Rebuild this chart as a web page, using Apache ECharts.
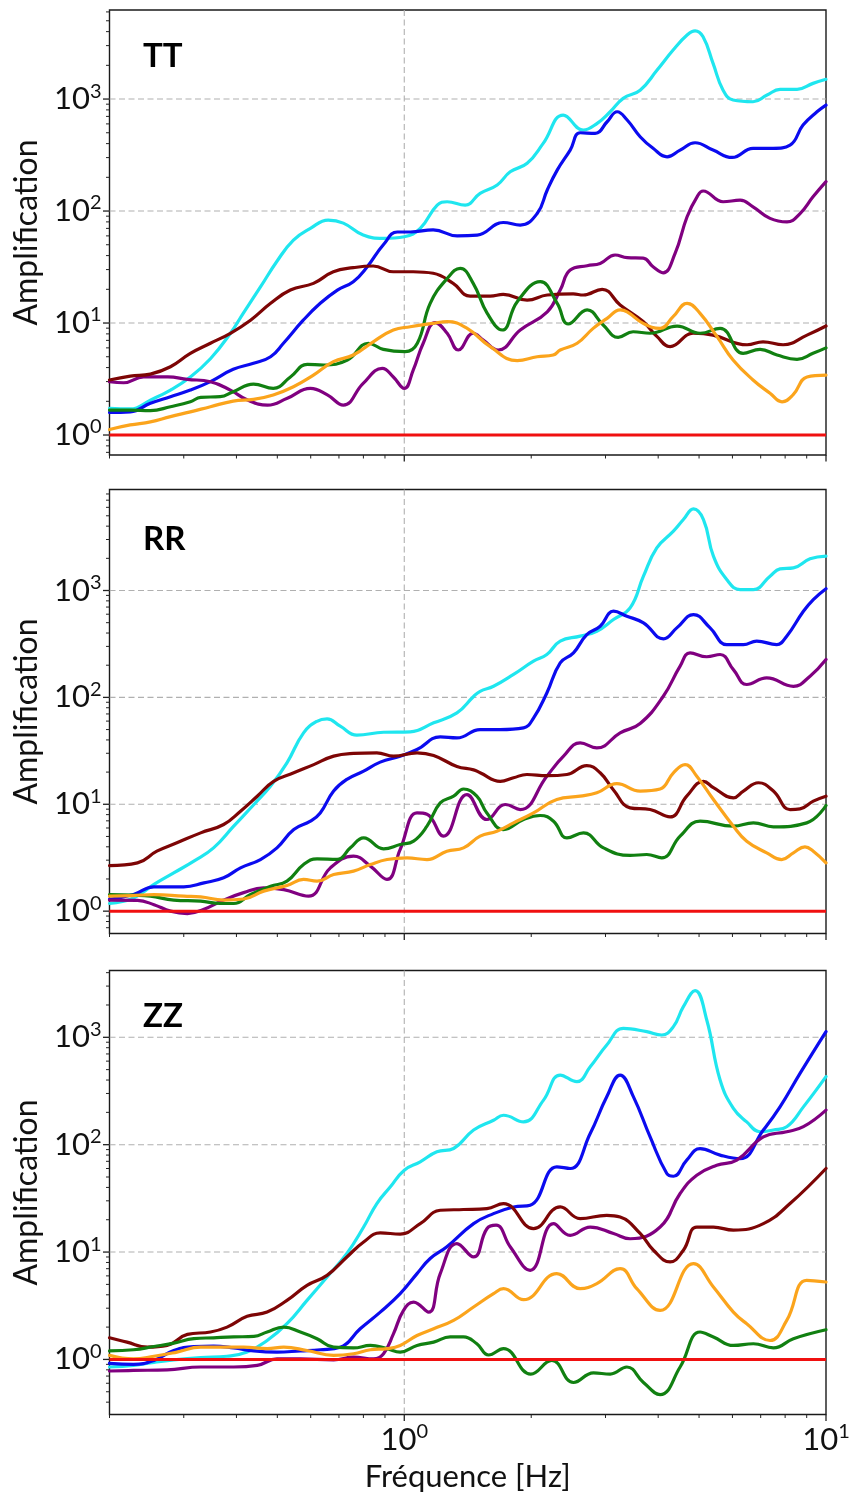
<!DOCTYPE html>
<html><head><meta charset="utf-8">
<script src="https://cdn.jsdelivr.net/npm/echarts@6/dist/echarts.min.js"></script>
<style>html,body{margin:0;padding:0;background:#fff}#c{width:851px;height:1496px}</style>
</head><body><div id="c"></div>
<script>
// ---------- data ----------
const PANEL_NAMES = ['TT', 'RR', 'ZZ'];
const X_LABEL = 'Fréquence [Hz]';
const Y_LABEL = 'Amplification';
const X_RANGE = [0.2, 10];
const Y_RANGES = [[0.663, 6240], [0.618, 8810], [0.307, 4190]];
const X_MAJOR = [1, 10];
const Y_MAJOR = [1, 10, 100, 1000];
const X_GRIDLINES = [1];
const Y_GRIDLINES = [1, 10, 100, 1000];
const SERIES_NAMES = ['cyan', 'blue', 'purple', 'maroon', 'green', 'orange'];
const COLORS = ['#1fe6ef', '#0b0bef', '#800080', '#7d0505', '#118011', '#fba41c'];
const REF_LINE = [[0.2, 1], [10, 1]];

const TT_cyan = [[0.2,1.73],[0.224,1.71],[0.25,2.05],[0.279,2.52],[0.311,3.3],[0.347,4.8],[0.387,8.1],[0.415,12.2],[0.456,21],[0.5,36],[0.546,55],[0.599,70],[0.66,83],[0.717,78],[0.799,61],[0.892,57],[1.0,59],[1.091,70],[1.197,113],[1.264,121],[1.394,113],[1.513,144],[1.661,171],[1.783,224],[1.956,267],[2.135,402],[2.382,720],[2.657,529],[2.867,607],[3.078,770],[3.304,1014],[3.625,1200],[3.977,1815],[4.34,2740],[4.684,3730],[4.893,4070],[5.111,3600],[5.398,2080],[5.701,1200],[6.021,980],[6.714,946],[7.248,1086],[7.78,1220],[8.537,1220],[9.316,1380],[10,1500]];
const TT_blue = [[0.2,1.59],[0.224,1.61],[0.25,1.92],[0.279,2.2],[0.311,2.52],[0.347,3.0],[0.393,3.86],[0.439,4.37],[0.482,5.0],[0.517,6.6],[0.576,10.6],[0.632,15],[0.694,19.7],[0.757,23.4],[0.817,31.8],[0.892,50],[0.963,65],[1.033,65],[1.171,68],[1.335,60],[1.489,61],[1.717,79],[1.884,75],[2.066,95],[2.183,154],[2.305,232],[2.474,350],[2.613,500],[2.835,494],[3.027,627],[3.197,770],[3.377,650],[3.625,461],[3.89,363],[4.2,305],[4.509,350],[4.893,407],[5.398,350],[5.989,301],[6.714,363],[7.488,363],[8.217,388],[8.821,586],[9.52,770],[10,884]];
const TT_purple = [[0.2,2.99],[0.216,2.93],[0.241,3.3],[0.275,3.3],[0.306,3.14],[0.347,2.99],[0.387,2.52],[0.425,2.05],[0.474,1.85],[0.528,2.13],[0.599,2.61],[0.657,2.28],[0.717,1.85],[0.799,2.89],[0.887,3.94],[0.942,3.3],[1.0,2.61],[1.05,3.8],[1.109,6.6],[1.184,10.1],[1.264,8.1],[1.343,5.74],[1.457,8.1],[1.539,7.05],[1.67,5.74],[1.884,8.66],[2.183,12.6],[2.343,19.7],[2.474,29.7],[2.714,32.5],[2.914,34],[3.162,40.5],[3.377,38.3],[3.685,38],[3.89,31.8],[4.109,28.1],[4.387,41.9],[4.684,89],[4.946,134],[5.111,151],[5.701,121],[6.256,125],[6.714,109],[7.367,86],[8.082,80],[8.678,95],[9.316,134],[10,183]];
const TT_maroon = [[0.2,3.1],[0.224,3.36],[0.25,3.5],[0.279,4.07],[0.311,5.36],[0.347,6.6],[0.387,8.1],[0.432,10.6],[0.482,15],[0.537,19.7],[0.609,22.6],[0.679,28.7],[0.757,31.2],[0.844,32.3],[0.942,28.7],[1.05,28.7],[1.171,27.8],[1.306,22.6],[1.433,17.4],[1.599,17.4],[1.717,18],[1.956,16],[2.183,17.8],[2.515,18.2],[2.657,17.8],[2.946,20],[3.25,14.5],[3.685,10.3],[3.977,7.55],[4.269,6.15],[4.839,8.1],[5.398,7.8],[6.5,6.4],[7.09,6.8],[7.91,6.4],[9.016,7.8],[10,9.4]];
const TT_green = [[0.2,1.67],[0.224,1.67],[0.25,1.65],[0.279,1.79],[0.311,1.98],[0.329,2.17],[0.366,2.2],[0.393,2.44],[0.439,2.85],[0.489,2.61],[0.537,3.3],[0.589,4.28],[0.643,4.22],[0.733,4.68],[0.822,6.6],[0.892,5.82],[1.005,5.55],[1.074,6.6],[1.152,15],[1.264,25],[1.357,30.8],[1.457,22.6],[1.573,12.2],[1.707,8.66],[1.853,15.5],[2.101,23.4],[2.305,15],[2.447,9.8],[2.714,13.1],[2.962,9.6],[3.215,7.45],[3.489,8.36],[3.828,8.1],[4.436,9.4],[5.028,8.1],[5.609,8.96],[6.36,5.36],[6.977,5.82],[7.654,5.18],[8.537,4.74],[9.316,5.36],[10,6.0]];
const TT_orange = [[0.2,1.12],[0.224,1.23],[0.25,1.31],[0.279,1.46],[0.311,1.61],[0.347,1.79],[0.393,2.01],[0.439,2.08],[0.489,2.28],[0.546,2.7],[0.609,3.43],[0.679,4.52],[0.757,5.18],[0.844,6.8],[0.942,8.66],[1.033,9.27],[1.171,9.94],[1.264,10.3],[1.41,8.96],[1.599,6.15],[1.853,4.61],[2.066,5.0],[2.255,5.18],[2.343,5.74],[2.57,6.6],[2.805,8.96],[3.027,11],[3.25,13.1],[3.377,12.6],[3.685,9.94],[4.043,8.96],[4.34,11.4],[4.684,15],[5.028,12.2],[5.517,7.55],[6.021,4.68],[6.714,3.1],[7.367,2.36],[7.866,1.98],[8.351,2.28],[9.016,3.3],[10,3.43]];

const RR_cyan = [[0.2,1.18],[0.228,1.33],[0.255,1.78],[0.284,2.28],[0.317,2.94],[0.353,3.91],[0.394,6.24],[0.44,9.95],[0.482,14.8],[0.527,24.4],[0.577,46.6],[0.621,59.8],[0.656,63],[0.705,53.8],[0.772,44.3],[0.893,47.2],[1.033,47.6],[1.174,57.8],[1.333,71.6],[1.46,102],[1.513,114],[1.628,127],[1.816,164],[2.025,218],[2.178,252],[2.343,336],[2.613,374],[2.861,416],[3.134,535],[3.432,688],[3.691,1361],[3.97,2506],[4.347,3589],[4.59,4613],[4.85,5800],[5.122,4613],[5.408,2094],[5.815,1267],[6.256,1021],[6.727,1021],[7.367,1361],[7.78,1593],[8.37,1629],[9.165,1977],[10,2100]];
const RR_blue = [[0.2,1.29],[0.228,1.43],[0.255,1.69],[0.3,1.69],[0.335,1.84],[0.373,2.05],[0.409,2.54],[0.456,3.04],[0.499,3.91],[0.547,5.8],[0.599,6.95],[0.632,8.3],[0.68,13.3],[0.731,17.1],[0.801,20.4],[0.877,24.8],[0.978,28.2],[1.072,32.5],[1.217,42.7],[1.333,41.8],[1.513,50],[1.689,50],[1.918,51.9],[2.025,64],[2.178,110],[2.343,210],[2.519,261],[2.709,387],[2.914,463],[3.134,640],[3.371,575],[3.691,498],[4.117,353],[4.428,447],[4.85,596],[5.311,447],[5.815,312],[6.37,312],[6.85,336],[7.64,312],[8.07,374],[8.84,640],[9.33,823],[10,1040]];
const RR_purple = [[0.2,1.27],[0.233,1.26],[0.255,1.15],[0.279,1.0],[0.306,0.95],[0.335,1.04],[0.373,1.27],[0.416,1.49],[0.464,1.65],[0.518,1.59],[0.593,1.38],[0.668,2.54],[0.758,3.27],[0.831,2.64],[0.91,1.98],[0.978,3.78],[1.072,8.3],[1.132,8.07],[1.239,5.03],[1.408,12.3],[1.57,7.2],[1.735,9.95],[1.884,8.93],[2.178,18.3],[2.386,28.2],[2.613,37.6],[2.861,33.7],[3.25,46.6],[3.625,57],[4.117,103],[4.509,196],[4.761,261],[5.215,240],[5.609,252],[6.031,182],[6.486,132],[7.234,152],[8.37,127],[9.165,158],[10,226]];
const RR_maroon = [[0.2,2.67],[0.233,2.83],[0.259,3.64],[0.289,4.36],[0.329,5.4],[0.373,6.47],[0.409,8.62],[0.448,11.9],[0.49,16.4],[0.547,19.7],[0.61,23.5],[0.68,28.2],[0.758,29.9],[0.861,30.3],[0.943,28.2],[1.072,30.3],[1.174,28.6],[1.333,22.6],[1.46,21],[1.513,19.7],[1.689,16.4],[1.816,17.7],[1.953,19],[2.178,18.5],[2.43,19],[2.709,23],[2.914,19.7],[3.134,13.6],[3.432,9.26],[3.828,8.93],[4.269,7.62],[4.675,11.9],[5.122,16.4],[5.408,14.3],[6.031,11.5],[6.37,13.3],[6.915,15.9],[7.503,13.3],[8.217,8.93],[8.678,9.06],[9.33,10.7],[10,11.9]];
const RR_green = [[0.2,1.43],[0.228,1.41],[0.25,1.38],[0.284,1.27],[0.329,1.24],[0.366,1.18],[0.394,1.18],[0.432,1.43],[0.482,1.71],[0.527,1.91],[0.577,2.73],[0.621,3.09],[0.693,3.05],[0.745,3.91],[0.801,4.85],[0.893,3.83],[0.978,4.2],[1.052,4.52],[1.132,6.24],[1.217,10.3],[1.309,11.9],[1.382,13.9],[1.486,11.9],[1.57,8.3],[1.719,5.8],[1.918,7.2],[2.101,7.85],[2.259,6.95],[2.43,4.85],[2.661,5.4],[2.968,3.91],[3.432,3.32],[3.758,3.39],[4.079,3.15],[4.509,5.03],[5.028,6.95],[6.031,6.24],[6.727,6.7],[7.503,6.15],[9.0,6.7],[10,9.74]];
const RR_orange = [[0.2,1.38],[0.228,1.4],[0.255,1.43],[0.3,1.38],[0.329,1.36],[0.373,1.27],[0.416,1.3],[0.464,1.54],[0.527,1.74],[0.577,1.98],[0.621,1.91],[0.68,2.2],[0.758,2.37],[0.831,2.73],[0.91,3.04],[1.015,3.15],[1.132,3.04],[1.262,3.64],[1.382,3.91],[1.513,5.03],[1.658,5.6],[1.816,6.7],[2.025,8.3],[2.3,11.1],[2.613,11.9],[2.861,12.8],[3.192,15.6],[3.625,13.3],[4.043,13.9],[4.347,19.7],[4.633,23.5],[4.938,18.3],[5.408,11.1],[6.031,6.24],[6.486,4.52],[7.234,3.51],[7.85,3.04],[8.37,3.51],[8.916,4.0],[9.33,3.64],[10,2.83]];

const ZZ_cyan = [[0.2,0.85],[0.228,0.88],[0.255,0.94],[0.284,0.99],[0.329,1.04],[0.38,1.07],[0.424,1.17],[0.473,1.5],[0.527,2.15],[0.588,3.55],[0.656,5.86],[0.731,9.7],[0.801,17.1],[0.861,28.3],[0.927,40.5],[1.0,57.9],[1.091,69.2],[1.195,85.8],[1.309,92.2],[1.46,137],[1.628,169],[1.719,188],[1.918,163],[2.139,260],[2.343,445],[2.566,386],[2.76,532],[3.021,848],[3.309,1212],[3.758,1129],[4.079,1051],[4.347,1257],[4.59,1930],[4.893,2722],[5.215,1450],[5.609,400],[6.031,218],[6.486,163],[6.977,132],[7.503,137],[8.07,147],[8.84,225],[10,430]];
const ZZ_blue = [[0.2,0.92],[0.228,0.9],[0.255,0.98],[0.284,1.21],[0.317,1.32],[0.353,1.33],[0.394,1.28],[0.44,1.2],[0.499,1.17],[0.567,1.2],[0.632,1.23],[0.705,1.3],[0.786,1.93],[0.877,2.76],[0.978,4.1],[1.072,6.3],[1.152,8.7],[1.262,11.2],[1.46,18.4],[1.628,22.8],[1.816,26.3],[1.989,27.3],[2.3,62.2],[2.474,60],[2.76,127],[3.021,279],[3.25,445],[3.495,279],[3.828,118],[4.193,53.9],[4.347,50.8],[4.675,71.8],[5.028,92],[5.609,80],[6.256,74],[7.103,137],[7.78,225],[8.678,461],[10,1129]];
const ZZ_purple = [[0.2,0.78],[0.228,0.79],[0.274,0.8],[0.329,0.85],[0.394,0.85],[0.448,0.88],[0.499,1.01],[0.567,1.01],[0.68,0.99],[0.758,1.05],[0.846,1.01],[0.893,1.13],[0.943,1.74],[0.996,2.86],[1.052,3.42],[1.142,2.76],[1.217,6.3],[1.333,12],[1.46,9.0],[1.57,16.5],[1.651,17.8],[1.783,11.2],[1.989,6.76],[2.259,18.4],[2.474,14.3],[2.76,17.1],[3.134,14.9],[3.432,13.3],[4.043,17.1],[4.509,35.1],[4.938,52],[5.507,64.4],[6.143,71.8],[7.103,118],[8.07,132],[8.84,147],[10,210]];
const ZZ_maroon = [[0.2,1.59],[0.22,1.45],[0.246,1.3],[0.274,1.35],[0.306,1.71],[0.347,1.8],[0.38,2.0],[0.424,2.52],[0.473,2.76],[0.527,3.55],[0.588,4.9],[0.656,6.07],[0.731,9.0],[0.801,12.4],[0.877,15.1],[0.978,14.7],[1.091,18.4],[1.217,24.5],[1.382,24.9],[1.57,25.4],[1.719,28.3],[2.025,16.5],[2.343,26.3],[2.613,20.5],[3.021,22],[3.25,21.2],[3.625,14.9],[3.898,10.4],[4.269,8.09],[4.59,10.4],[4.938,17.1],[5.408,17.1],[6.031,16],[7.103,18.4],[8.217,28.3],[10,60]];
const ZZ_green = [[0.2,1.2],[0.228,1.23],[0.255,1.32],[0.284,1.42],[0.317,1.56],[0.353,1.59],[0.394,1.62],[0.44,1.64],[0.473,1.8],[0.518,2.0],[0.567,1.8],[0.621,1.56],[0.68,1.3],[0.758,1.28],[0.831,1.35],[0.91,1.26],[0.978,1.17],[1.072,1.35],[1.174,1.45],[1.285,1.62],[1.382,1.62],[1.486,1.4],[1.585,1.1],[1.719,1.26],[1.995,0.73],[2.238,0.98],[2.519,0.61],[2.81,0.75],[3.078,0.73],[3.371,0.85],[3.691,0.61],[4.043,0.47],[4.509,0.85],[5.028,1.8],[5.408,1.62],[6.031,1.35],[6.727,1.4],[7.503,1.28],[8.37,1.56],[10,1.89]];
const ZZ_orange = [[0.2,1.09],[0.228,1.01],[0.255,1.07],[0.289,1.17],[0.329,1.3],[0.373,1.3],[0.416,1.3],[0.473,1.26],[0.518,1.3],[0.588,1.21],[0.68,1.09],[0.758,1.13],[0.831,1.23],[0.91,1.26],[0.978,1.35],[1.072,1.67],[1.174,1.93],[1.309,2.31],[1.46,3.08],[1.628,4.1],[1.719,4.56],[1.918,3.6],[2.3,6.3],[2.613,4.56],[2.861,5.08],[3.25,7.0],[3.559,4.56],[4.043,2.86],[4.85,7.8],[5.408,4.73],[6.031,2.76],[6.486,2.15],[7.367,1.5],[8.07,2.31],[9.0,5.45],[10,5.26]];

const PANEL_SERIES = [
  [TT_cyan, TT_blue, TT_purple, TT_maroon, TT_green, TT_orange],
  [RR_cyan, RR_blue, RR_purple, RR_maroon, RR_green, RR_orange],
  [ZZ_cyan, ZZ_blue, ZZ_purple, ZZ_maroon, ZZ_green, ZZ_orange]
];

// ---------- layout ----------
const FONT = 'Lato';
const GRID_LEFT = 109.5, GRID_WIDTH = 716.5;
const GRID_TOPS = [10, 489.5, 970.5];
const GRID_HEIGHTS = [445, 444, 444];
const LABEL_POS = [[143, 56], [143, 539], [143, 1016]];

function minorValues(lo, hi) {
  const out = [];
  for (let e = -2; e <= 4; e++) {
    for (let m = 2; m <= 9; m++) {
      const v = m * Math.pow(10, e);
      if (v > lo * 1.0001 && v < hi * 0.9999) out.push(v);
    }
  }
  return out;
}

function labelFmt(v) {
  const e = Math.round(Math.log10(v));
  return '{b|10}{s|' + e + '}';
}
const labelRich = {
  b: { fontSize: 31, fontFamily: FONT, color: '#111', lineHeight: 36 },
  s: { fontSize: 20, fontFamily: FONT, color: '#111', lineHeight: 21, verticalAlign: 'top' }
};

const grids = [], xAxes = [], yAxes = [], series = [], graphics = [];
for (let i = 0; i < 3; i++) {
  const yr = Y_RANGES[i];
  grids.push({
    left: GRID_LEFT, top: GRID_TOPS[i], width: GRID_WIDTH, height: GRID_HEIGHTS[i],
    show: true, borderColor: '#1a1a1a', borderWidth: 1.4, backgroundColor: 'transparent',
    containLabel: false, outerBoundsMode: 'none'
  });
  xAxes.push({
    type: 'log', logBase: 10, gridIndex: i, min: X_RANGE[0], max: X_RANGE[1],
    axisLine: { show: false }, axisTick: { show: false }, splitLine: { show: false },
    axisLabel: { show: i === 2, showMinLabel: false, margin: 7, formatter: labelFmt, rich: labelRich },
    name: i === 2 ? X_LABEL : '', nameLocation: 'middle', nameGap: 47,
    nameTextStyle: { fontSize: 31, fontFamily: FONT, color: '#111' }
  });
  yAxes.push({
    type: 'log', logBase: 10, gridIndex: i, min: yr[0], max: yr[1],
    axisLine: { show: false }, axisTick: { show: false }, splitLine: { show: false },
    axisLabel: { showMinLabel: false, showMaxLabel: false, margin: 8, formatter: labelFmt, rich: labelRich },
    name: Y_LABEL, nameLocation: 'middle', nameGap: 67,
    nameTextStyle: { fontSize: 32, fontFamily: FONT, color: '#111' }
  });

  // gridlines + ticks via the axes' own scales
  const xMinor = minorValues(X_RANGE[0] * 0.999, X_RANGE[1]);
  const yMinor = minorValues(yr[0], yr[1]);
  series.push({
    type: 'custom', xAxisIndex: i, yAxisIndex: i, z: 1, silent: true, clip: false,
    data: [[1, 1]],
    renderItem: function (params, api) {
      const cs = params.coordSys;
      const L = cs.x, T = cs.y, R = cs.x + cs.width, B = cs.y + cs.height;
      const ch = [];
      const seg = (x1, y1, x2, y2, w, c, dash) => ch.push({
        type: 'line', shape: { x1, y1, x2, y2 },
        style: { stroke: c, lineWidth: w, lineDash: dash || null }
      });
      Y_GRIDLINES.forEach(v => {
        if (v > yr[0] && v < yr[1]) { const p = api.coord([1, v]); seg(L, p[1], R, p[1], 1.1, '#b0b0b0', [6, 3.5]); }
      });
      X_GRIDLINES.forEach(v => { const p = api.coord([v, 1]); seg(p[0], T, p[0], B, 1.1, '#b0b0b0', [6, 3.5]); });
      X_MAJOR.forEach(v => { const p = api.coord([v, 1]); seg(p[0], B, p[0], B + 6.5, 1.3, '#222'); });
      xMinor.forEach(v => { const p = api.coord([v, 1]); seg(p[0], B, p[0], B + 3.5, 1, '#222'); });
      Y_MAJOR.forEach(v => {
        if (v > yr[0] && v < yr[1]) { const p = api.coord([1, v]); seg(L - 6.5, p[1], L, p[1], 1.3, '#222'); }
      });
      yMinor.forEach(v => { const p = api.coord([1, v]); seg(L - 3.5, p[1], L, p[1], 1, '#222'); });
      return { type: 'group', children: ch };
    }
  });

  PANEL_SERIES[i].forEach((d, k) => {
    series.push({
      name: PANEL_NAMES[i] + ' ' + SERIES_NAMES[k],
      type: 'line', xAxisIndex: i, yAxisIndex: i, data: d, z: 2,
      showSymbol: false, symbol: 'none', smooth: 0.45,
      lineStyle: { color: COLORS[k], width: 3.2, cap: 'round', join: 'round' }, itemStyle: { color: COLORS[k] },
      silent: true
    });
  });
  series.push({
    name: PANEL_NAMES[i] + ' ref', type: 'line', xAxisIndex: i, yAxisIndex: i, data: REF_LINE, z: 3,
    showSymbol: false, symbol: 'none', lineStyle: { color: '#f01010', width: 3 }, silent: true
  });

  graphics.push({
    type: 'text', x: LABEL_POS[i][0], y: LABEL_POS[i][1], z: 10,
    style: { text: PANEL_NAMES[i], fontSize: 33, fontWeight: 'bold', fontFamily: FONT, fill: '#000', verticalAlign: 'middle' }
  });
}

const chart = echarts.init(document.getElementById('c'), null, { renderer: 'canvas' });
chart.setOption({
  animation: false,
  backgroundColor: '#fff',
  grid: grids, xAxis: xAxes, yAxis: yAxes, series: series, graphic: graphics
});
</script>
</body></html>
